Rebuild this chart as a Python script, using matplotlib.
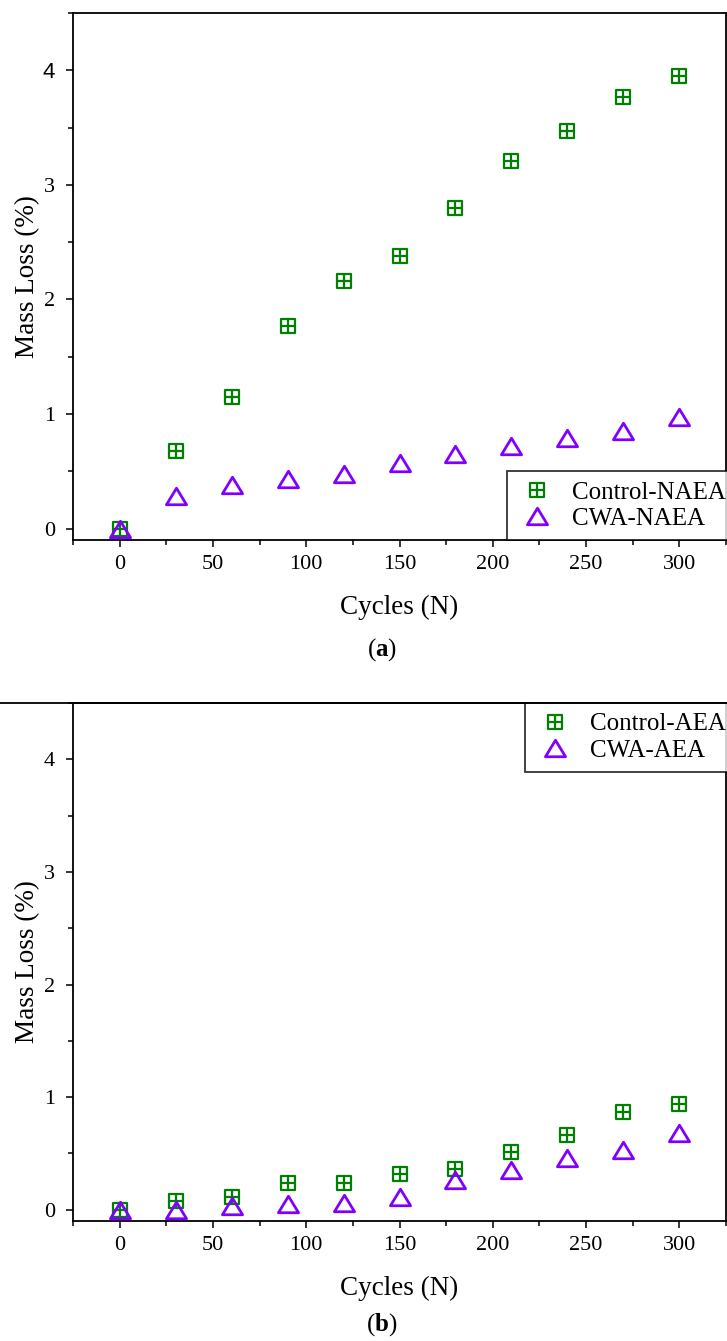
import matplotlib
matplotlib.use("Agg")
import matplotlib.pyplot as plt
from matplotlib.path import Path
from matplotlib.lines import Line2D
from matplotlib.ticker import MultipleLocator

##############################
# Data (mass loss vs freeze-thaw cycles)
##############################

cycles = [0, 30, 60, 90, 120, 150, 180, 210, 240, 270, 300]

control_naea = [0.0, 0.68, 1.15, 1.77, 2.16, 2.38, 2.80, 3.21, 3.47, 3.77, 3.95]
cwa_naea = [0.0, 0.28, 0.38, 0.43, 0.48, 0.57, 0.65, 0.72, 0.79, 0.85, 0.97]

control_aea = [0.0, 0.08, 0.11, 0.24, 0.24, 0.32, 0.36, 0.51, 0.66, 0.87, 0.94]
cwa_aea = [0.0, 0.0, 0.03, 0.05, 0.06, 0.11, 0.26, 0.35, 0.46, 0.53, 0.68]

x_ticks = [0, 50, 100, 150, 200, 250, 300]
y_ticks = [0, 1, 2, 3, 4]

green = '#008000'
purple = '#8000ff'

##############################
# Style
##############################

plt.rcParams['font.family'] = ['Liberation Serif', 'DejaVu Serif']
plt.rcParams['mathtext.fontset'] = 'custom'
plt.rcParams['mathtext.rm'] = 'Liberation Serif'
plt.rcParams['mathtext.bf'] = 'Liberation Serif:bold'

# square with a cross inside
sq_plus = Path([(-1, -1), (1, -1), (1, 1), (-1, 1), (-1, -1),
                (0, -1), (0, 1), (-1, 0), (1, 0)],
               [Path.MOVETO, Path.LINETO, Path.LINETO, Path.LINETO, Path.CLOSEPOLY,
                Path.MOVETO, Path.LINETO, Path.MOVETO, Path.LINETO])
# flattened open triangle
tri = Path([(-1, -0.82), (1, -0.82), (0, 0.82), (-1, -0.82)],
           [Path.MOVETO, Path.LINETO, Path.LINETO, Path.CLOSEPOLY])

fig = plt.figure(figsize=(7.27, 13.41), dpi=100)

W, H = 727, 1341
def axes_box(left, top, right, bottom):
    return [left / W, 1 - bottom / H, (right - left) / W, (bottom - top) / H]

ax_a = fig.add_axes(axes_box(73, 13, 726, 540))
ax_b = fig.add_axes(axes_box(73, 703, 726, 1221))


def panel(ax, ctrl, cwa, lab_ctrl, lab_cwa, leg_loc, leg_anchor):
    ax.plot(cycles, ctrl, linestyle='none', marker=sq_plus, markersize=10,
            markerfacecolor='none', markeredgecolor=green, markeredgewidth=1.6,
            label=lab_ctrl, zorder=3)
    ax.plot(cycles, cwa, linestyle='none', marker=tri, markersize=14.5,
            markerfacecolor='none', markeredgecolor=purple, markeredgewidth=2.0,
            label=lab_cwa, zorder=4)

    ax.set_xlim(-25, 325)
    ax.set_ylim(-0.1, 4.5)
    ax.set_xticks(x_ticks)
    ax.set_yticks(y_ticks)
    ax.xaxis.set_minor_locator(MultipleLocator(25))
    ax.yaxis.set_minor_locator(MultipleLocator(0.5))
    ax.tick_params(which='both', direction='out', top=False, right=False,
                   width=1.1, labelsize=16)
    ax.tick_params(axis='x', which='major', length=5, pad=6)
    ax.tick_params(axis='y', which='major', length=5, pad=8)
    ax.tick_params(which='minor', length=3.5)
    for s in ax.spines.values():
        s.set_linewidth(1.3)

    ax.set_xlabel('Cycles (N)', fontsize=19.5)
    ax.set_ylabel('Mass Loss (%)', fontsize=19.5)
    ax.xaxis.set_label_coords(0.5, -0.105)
    ax.yaxis.set_label_coords(-0.05, 0.5)

    leg = ax.legend(loc=leg_loc, bbox_to_anchor=leg_anchor, fontsize=18,
                    frameon=True, fancybox=False, borderpad=0.4,
                    handlelength=1.6, handletextpad=0.6, labelspacing=0.15,
                    borderaxespad=0)
    leg.get_frame().set_edgecolor('black')
    leg.get_frame().set_linewidth(1.3)
    leg.set_clip_on(False)


panel(ax_a, control_naea, cwa_naea, 'Control-NAEA', 'CWA-NAEA',
      'lower left', (0.6646, 0.0))
panel(ax_b, control_aea, cwa_aea, 'Control-AEA', 'CWA-AEA',
      'upper left', (0.692, 1.0))

# the "4" label of the upper panel is set in a sans font in the source
fig.canvas.draw()
for t in ax_a.get_yticklabels():
    if t.get_text() == '4':
        t.set_fontfamily('Liberation Sans')

# panel captions
fig.text(382 / W, 1 - 650 / H, r'($\mathbf{a}$)', ha='center', va='center', fontsize=18)
fig.text(382 / W, 1 - 1325 / H, r'($\mathbf{b}$)', ha='center', va='center', fontsize=18)

# separator line at the top of the lower panel
fig.add_artist(Line2D([0, 1], [1 - 703 / H, 1 - 703 / H], transform=fig.transFigure,
                      color='black', linewidth=1.3))

fig.savefig('out.png', dpi=100)
plt.close(fig)
